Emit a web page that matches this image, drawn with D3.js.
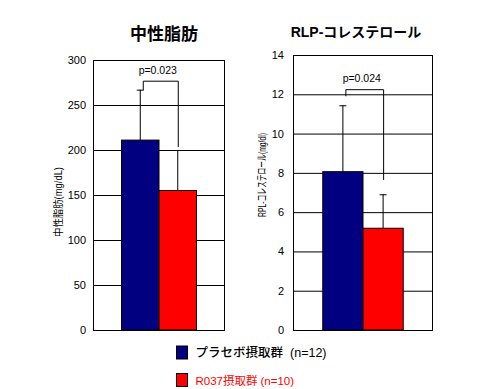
<!DOCTYPE html>
<html><head><meta charset="utf-8">
<script src="https://cdn.jsdelivr.net/npm/d3@7"></script>
<style>
html,body{margin:0;padding:0;background:#fff;}
svg{display:block;font-family:"Liberation Sans","Noto Sans CJK JP",sans-serif;}
</style></head>
<body><svg id="c" width="479" height="389"></svg>
<script>
// ---- data ----
const groups = ["プラセボ摂取群", "R037摂取群"];
const groupNotes = ["(n=12)", "(n=10)"];
const colors = ["#000080", "#ff0000"];

const tgTitle = "中性脂肪";
const tgYLabel = "中性脂肪(mg/dL)";
const tgMeans = [211, 155];
const tgSD = [56, 45];
const tgTicks = [0, 50, 100, 150, 200, 250, 300];
const tgP = "p=0.023";
const tgBracket = [277, 266.7, 203.3]; // top, left leg end, right leg end

const rlpTitle = "RLP-コレステロール";
const rlpYLabel = "RPL-コレステロール(mg/dl)";
const rlpMeans = [8.06, 5.18];
const rlpSD = [3.38, 1.73];
const rlpTicks = [0, 2, 4, 6, 8, 10, 12, 14];
const rlpP = "p=0.024";
const rlpBracket = [12.26, 11.9, 7.64];

const svg = d3.select("#c");

function panel(o) {
  const g = svg.append("g");
  const y = d3.scaleLinear().domain([0, d3.max(o.ticks)]).range([o.bottom, o.top]);
  const x = d3.scaleBand().domain(groups).range([o.left, o.right]).paddingInner(0).paddingOuter(o.pad);
  // gridlines
  g.selectAll("line.grid").data(o.ticks).join("line")
    .attr("x1", o.left).attr("x2", o.right)
    .attr("y1", d => y(d) + 0.5).attr("y2", d => y(d) + 0.5)
    .attr("stroke", "#000").attr("stroke-width", 1);
  // axis labels
  const ax = g.append("g").attr("transform", `translate(${o.left},0)`)
    .call(d3.axisLeft(y).tickValues(o.ticks).tickSize(0).tickPadding(o.tickPad).tickFormat(d3.format("d")));
  ax.select(".domain").remove();
  ax.selectAll("text").attr("font-size", 11).attr("fill", "#000")
    .attr("font-family", '"Liberation Sans",sans-serif');
  // bars
  g.selectAll("rect.bar").data(o.means).join("rect")
    .attr("x", (d, i) => x(groups[i])).attr("width", x.bandwidth())
    .attr("y", d => y(d)).attr("height", d => y(0) - y(d))
    .attr("fill", (d, i) => colors[i]).attr("stroke", "#000").attr("stroke-width", 1);
  // error bars
  o.means.forEach((m, i) => {
    const cx = x(groups[i]) + x.bandwidth() / 2;
    g.append("line").attr("x1", cx).attr("x2", cx).attr("y1", y(m)).attr("y2", y(m + o.sd[i]))
      .attr("stroke", "#000");
    g.append("line").attr("x1", cx - 3.5).attr("x2", cx + 3.5).attr("y1", y(m + o.sd[i]) + 0.5).attr("y2", y(m + o.sd[i]) + 0.5)
      .attr("stroke", "#000");
  });
  // bracket
  const lx = x(groups[0]) + x.bandwidth() / 2 + 3;
  const rx = x(groups[1]) + x.bandwidth() / 2 + 0.5;
  g.append("path")
    .attr("d", `M${lx},${y(o.bracket[1])}V${y(o.bracket[0]) + 0.5}H${rx}V${y(o.bracket[2])}`)
    .attr("fill", "none").attr("stroke", "#000");
  g.append("text").attr("x", (lx + rx) / 2 - 3).attr("y", y(o.bracket[0]) - 7)
    .attr("text-anchor", "middle").attr("font-size", 10.5).text(o.p);
  // frame
  g.append("rect").attr("x", o.left + 0.5).attr("y", o.top + 0.5)
    .attr("width", o.right - o.left - 1).attr("height", o.bottom - o.top)
    .attr("fill", "none").attr("stroke", "#000");
  // title
  g.append("text").attr("x", o.titleX).attr("y", o.titleY).attr("text-anchor", "middle")
    .attr("font-size", o.titleSize).attr("font-weight", "bold").text(o.title);
  // y label
  g.append("text").attr("transform", `translate(${o.ylabX},${o.ylabY}) rotate(-90)`)
    .attr("text-anchor", "middle").attr("font-size", o.ylabSize)
    .attr("textLength", o.ylabLen).attr("lengthAdjust", "spacingAndGlyphs")
    .text(o.ylab);
}

panel({left: 93, right: 225, top: 60, bottom: 330, pad: 0.76, tickPad: 7,
  ticks: tgTicks, means: tgMeans, sd: tgSD, bracket: tgBracket, p: tgP,
  title: tgTitle, titleX: 164, titleY: 40, titleSize: 17,
  ylab: tgYLabel, ylabX: 62, ylabY: 202, ylabLen: 70, ylabSize: 10});
panel({left: 293, right: 433, top: 55, bottom: 330, pad: 0.74, tickPad: 9,
  ticks: rlpTicks, means: rlpMeans, sd: rlpSD, bracket: rlpBracket, p: rlpP,
  title: rlpTitle, titleX: 356, titleY: 37, titleSize: 14,
  ylab: rlpYLabel, ylabX: 265.5, ylabY: 175, ylabLen: 84, ylabSize: 11});

// legend
const leg = svg.append("g");
groups.forEach((gname, i) => {
  const yy = 346 + i * 27.5;
  leg.append("rect").attr("x", 176.5).attr("y", yy).attr("width", 11).attr("height", 13)
    .attr("fill", colors[i]).attr("stroke", "#000");
  const fs = i === 0 ? 12.5 : 11.5;
  const t = leg.append("text").attr("x", 195.5).attr("y", yy + 11)
    .attr("font-size", fs).attr("fill", i === 0 ? "#000" : "#ff0000");
  t.append("tspan").attr("font-weight", i === 0 ? 500 : "normal").text(gname);
  t.append("tspan").attr("dx", i === 0 ? 7 : 3).text(groupNotes[i]);
});
</script></body></html>
